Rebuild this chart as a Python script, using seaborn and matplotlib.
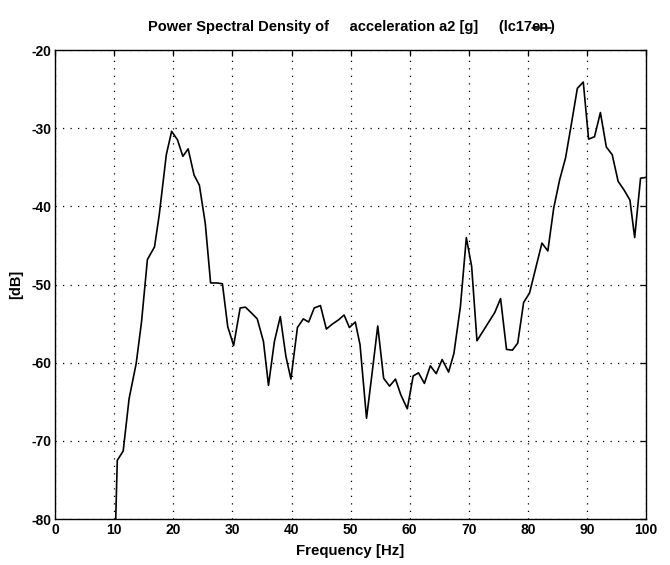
import matplotlib
matplotlib.use("Agg")
import matplotlib.pyplot as plt
from matplotlib.lines import Line2D
import numpy as np
import pandas as pd
import seaborn as sns

# Power spectral density of acceleration channel a2
freq_hz = [9.7, 10.5, 11.5, 12.5, 13.7, 14.6, 15.6, 16.8, 17.6, 18.8,
           19.7, 20.7, 21.6, 22.5, 23.5, 24.4, 25.4, 26.3, 27.3, 28.3,
           29.2, 30.2, 31.3, 32.2, 33.3, 34.2, 35.25, 36.1, 37.1, 38.1,
           39.05, 39.9, 41.0, 42.0, 42.9, 43.85, 44.9, 45.9, 46.85, 48.0,
           48.9, 49.8, 50.8, 51.6, 52.7, 53.6, 54.6, 55.6, 56.6, 57.6,
           58.5, 59.6, 60.6, 61.5, 62.5, 63.5, 64.5, 65.5, 66.6, 67.5,
           68.6, 69.6, 70.5, 71.4, 72.4, 73.4, 74.4, 75.4, 76.4, 77.4,
           78.3, 79.3, 80.3, 81.3, 82.4, 83.4, 84.4, 85.4, 86.4, 87.4,
           88.4, 89.4, 90.3, 91.3, 92.3, 93.3, 94.3, 95.3, 96.3, 97.3,
           98.1, 99.1, 100.0]
psd_db = [-95.0, -72.5, -71.3, -64.6, -60.1, -54.8, -46.8, -45.2, -41.1, -33.4,
          -30.4, -31.5, -33.6, -32.65, -36.0, -37.3, -42.2, -49.8, -49.8, -49.9,
          -55.4, -57.8, -53.0, -52.9, -53.7, -54.4, -57.3, -62.9, -57.3, -54.1,
          -59.2, -62.1, -55.5, -54.4, -54.8, -53.0, -52.7, -55.7, -55.1, -54.5,
          -53.9, -55.5, -54.8, -57.7, -67.1, -61.6, -55.3, -62.0, -63.0, -62.1,
          -64.1, -65.9, -61.7, -61.3, -62.65, -60.4, -61.4, -59.6, -61.2, -58.8,
          -52.8, -44.0, -47.7, -57.2, -56.0, -54.8, -53.6, -51.8, -58.3, -58.4,
          -57.5, -52.3, -51.1, -48.05, -44.7, -45.7, -40.2, -36.6, -33.8, -29.4,
          -24.9, -24.1, -31.4, -31.1, -28.0, -32.4, -33.4, -36.8, -37.9, -39.2,
          -44.0, -36.4, -36.3]

x_ticks = [0, 10, 20, 30, 40, 50, 60, 70, 80, 90, 100]
y_ticks = [-80, -70, -60, -50, -40, -30, -20]

title_main = "Power Spectral Density of     acceleration a2 [g]     (lc17"
title_struck = "en"
title_end = ")"

sns.set_style("white")
plt.rcParams["font.family"] = ["Liberation Sans", "DejaVu Sans"]

df = pd.DataFrame({"Frequency [Hz]": freq_hz, "[dB]": psd_db})

fig = plt.figure(figsize=(6.7, 5.65), dpi=100)
ax = fig.add_axes([0.0825, 0.0814, 0.8815, 0.8301])

sns.lineplot(data=df, x="Frequency [Hz]", y="[dB]", ax=ax, sort=False,
             estimator=None, color="black", linewidth=1.2)

ax.set_xlim(0, 100)
ax.set_ylim(-80, -20)
ax.set_xticks(x_ticks)
ax.set_yticks(y_ticks)
ax.set_xticklabels([str(v) for v in x_ticks], fontsize=10, fontweight="bold")
ax.set_yticklabels([str(v) for v in y_ticks], fontsize=10, fontweight="bold")
ax.tick_params(direction="in", length=4, width=0.9, top=True, right=True,
               colors="black", pad=3)
ax.grid(True, linestyle=(0, (1, 5)), color="black", linewidth=0.9)
ax.set_axisbelow(True)
for s in ax.spines.values():
    s.set_color("black")
    s.set_linewidth(1.0)

ax.set_xlabel("Frequency [Hz]", fontsize=10.8, fontweight="bold", labelpad=5,
              color="black")
ax.set_ylabel("[dB]", fontsize=10.5, fontweight="bold", labelpad=6,
              color="black")

# Title assembled in parts so that the revised suffix can be struck out
fig.canvas.draw()
renderer = fig.canvas.get_renderer()
tkw = dict(fontsize=10.5, fontweight="bold", va="baseline", color="black")
title_y = 1 - 31 / 565
probe = fig.text(0, title_y, title_main + title_struck + title_end, **tkw)
total_w = probe.get_window_extent(renderer).width
probe.remove()
ax_bb = ax.get_window_extent(renderer)
x_start = (ax_bb.x0 + ax_bb.x1) / 2 - total_w / 2

t1 = fig.text(x_start / fig.bbox.width, title_y, title_main, **tkw)
b1 = t1.get_window_extent(renderer)
t2 = fig.text(b1.x1 / fig.bbox.width, title_y, title_struck, **tkw)
b2 = t2.get_window_extent(renderer)
t3 = fig.text(b2.x1 / fig.bbox.width, title_y, title_end, **tkw)

W, H = fig.bbox.width, fig.bbox.height
strike_y = (title_y * H + 3.5) / H
fig.add_artist(Line2D([b2.x0 / W, b2.x1 / W + 2 / W], [strike_y, strike_y],
                      transform=fig.transFigure, color="black", linewidth=1.1))

fig.savefig("out.png", dpi=100)
